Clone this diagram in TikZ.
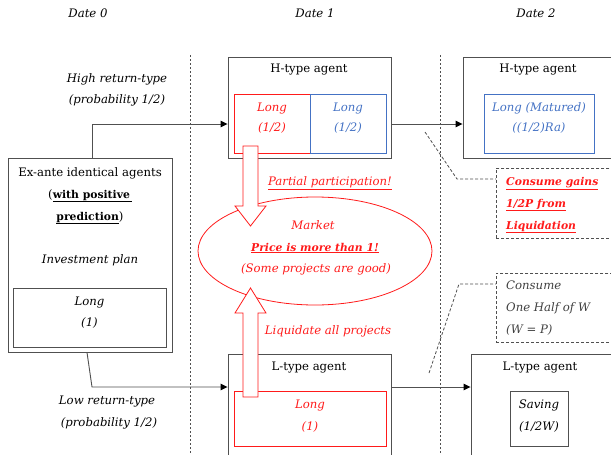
\documentclass[tikz,border=0pt]{standalone}
\usepackage{fontspec}
\setmainfont{DejaVu Serif}
\usetikzlibrary{arrows.meta,shapes.geometric,calc}
\definecolor{boxgray}{HTML}{505050}
\definecolor{txtgray}{HTML}{404040}
\definecolor{myred}{HTML}{FF1A1A}
\definecolor{myblue}{HTML}{4472C4}
\begin{document}
\begin{tikzpicture}[x=1pt,y=-1pt,
  every node/.style={font=\fontsize{11.7}{13}\selectfont, inner sep=0pt, text height=8.5pt, text depth=2.5pt},
  box/.style={draw=boxgray, line width=0.9pt, rectangle},
  redbox/.style={draw=myred, line width=0.8pt, rectangle},
  bluebox/.style={draw=myblue, line width=0.8pt, rectangle},
  dashbox/.style={draw=boxgray, line width=0.8pt, dash pattern=on 3pt off 2pt, rectangle},
  lbl/.style={font=\fontsize{11.7}{13}\selectfont\itshape},
  redlbl/.style={font=\fontsize{11.7}{13}\selectfont\itshape, text=myred},
  bluelbl/.style={font=\fontsize{11.7}{13}\selectfont\itshape, text=myblue},
  graylbl/.style={font=\fontsize{11.7}{13}\selectfont\itshape, text=txtgray},
  boldred/.style={font=\fontsize{10.8}{13}\selectfont\bfseries\itshape, text=myred},
  vline/.style={draw=boxgray, line width=0.8pt, dash pattern=on 2.2pt off 1.8pt},
  conn/.style={draw=boxgray, line width=0.9pt, -{Triangle[length=7pt,width=6.5pt,color=black]}},
  callout/.style={draw=boxgray, line width=0.8pt, dash pattern=on 3pt off 2pt},
  blockarrow/.style={draw=myred, line width=0.8pt, fill=white}
]
\useasboundingbox (0,0) rectangle (611,455);

% date labels
\node[lbl] (d0) at (88,14) {Date 0};
\node[lbl] (d1) at (315,14) {Date 1};
\node[lbl] (d2) at (536,14) {Date 2};

% vertical separators
\coordinate (v1t) at (190,55); \coordinate (v1b) at (190,455);
\coordinate (v2t) at (440,55); \coordinate (v2b) at (440,455);
\draw[vline] (v1t) -- (v1b);
\draw[vline] (v2t) -- (v2b);

% ex-ante box
\node[box, minimum width=164pt, minimum height=194pt] (exante) at (90,255) {};
\node (ex1) at (90,173) {Ex-ante identical agents};
\node (ex2) at (90,195) {(\textbf{\fontsize{10.8}{13}\selectfont\underline{with positive\,}}};
\node (ex3) at (90,217) {\textbf{\fontsize{10.8}{13}\selectfont\underline{prediction}})};
\node[lbl] (ex4) at (90,260) {Investment plan};
\node[box, minimum width=153pt, minimum height=59pt] (plan) at (89.5,317.5) {};
\node[lbl] (plan1) at (89.5,302) {Long};
\node[lbl] (plan2) at (89.5,323) {(1)};

% H-type agent, date 1
\node[box, minimum width=163pt, minimum height=101pt] (H1) at (309.5,107.5) {};
\node (H1t) at (309,69) {H-type agent};
\node[redbox, minimum width=76pt, minimum height=59pt] (H1r) at (272,123.5) {};
\node[bluebox, minimum width=76pt, minimum height=59pt] (H1b) at (348,123.5) {};
\node[redlbl] (H1r1) at (272,108) {Long};
\node[redlbl] (H1r2) at (272,128) {(1/2)};
\node[bluelbl] (H1b1) at (348,108) {Long};
\node[bluelbl] (H1b2) at (348,128) {(1/2)};

% H-type agent, date 2
\node[box, minimum width=160pt, minimum height=101pt] (H2) at (543,107.5) {};
\node (H2t) at (538,69) {H-type agent};
\node[bluebox, minimum width=110pt, minimum height=59pt] (H2b) at (539,123.5) {};
\node[bluelbl] (H2b1) at (539,108) {Long (Matured)};
\node[bluelbl] (H2b2) at (539,128) {((1/2)Ra)};

% L-type agent, date 1
\node[box, minimum width=163pt, minimum height=110pt] (L1) at (309.5,409) {};
\node (L1t) at (309,367) {L-type agent};
\node[redbox, minimum width=152pt, minimum height=55pt] (L1r) at (310,418.5) {};
\node[redlbl] (L1r1) at (310,405) {Long};
\node[redlbl] (L1r2) at (310,427) {(1)};

% L-type agent, date 2
\node[box, minimum width=160pt, minimum height=110pt] (L2) at (551,409) {};
\node (L2t) at (540,367) {L-type agent};
\node[box, minimum width=58pt, minimum height=55pt] (sav) at (539,418.5) {};
\node[lbl] (sav1) at (539,405) {Saving};
\node[lbl] (sav2) at (539,427) {(1/2W)};

% branch labels
\node[lbl] (hi1) at (117,79) {High return-type};
\node[lbl] (hi2) at (117,100) {(probability 1/2)};
\node[lbl] (lo1) at (107,401) {Low return-type};
\node[lbl] (lo2) at (109,423) {(probability 1/2)};

% connectors
\coordinate (hbend) at (92,124);
\draw[conn] (hbend |- exante.north) -- (hbend) -- (hbend -| H1.west);
\draw[conn] (H1.east |- hbend) -- (H2.west |- hbend);
\coordinate (lbend) at (92,387);
\draw[conn] ([xshift=-3pt]exante.south) -- (lbend) -- (lbend -| L1.west);
\draw[conn] (L1.east |- lbend) -- (L2.west |- lbend);

% market ellipse
\node[ellipse, draw=myred, line width=0.8pt, minimum width=234pt, minimum height=108pt] (mkt) at (315,251) {};
\node[redlbl] (mkt1) at (313,226) {Market};
\node[boldred] (mkt2) at (315,248) {\underline{Price is more than 1!}};
\node[redlbl] (mkt3) at (316,269) {(Some projects are good)};

% block arrows
\draw[blockarrow] (243,146) -- (258,146) -- (258,206) -- (266,206) -- (250.5,226) -- (235,206) -- (243,206) -- cycle;
\draw[blockarrow] (243,397) -- (258,397) -- (258,313) -- (266,313) -- (250.5,288) -- (235,313) -- (243,313) -- cycle;

\node[redlbl] (pp) at (330,182) {\underline{Partial participation!}};
\node[redlbl] (liq) at (328,331) {Liquidate all projects};

% consume gains box
\node[dashbox, minimum width=124pt, minimum height=70pt, anchor=north west] (cg) at (496,168) {};
\node[boldred, anchor=west] (cg1) at (506,182) {\underline{Consume gains}};
\node[boldred, anchor=west] (cg2) at (506,204) {\underline{1/2P from}};
\node[boldred, anchor=west] (cg3) at (506,226) {\underline{Liquidation}};
\coordinate (c1s) at (425,132);
\coordinate (c1k) at (457,179);
\draw[callout] (c1s) -- (c1k) -- (c1k -| cg.west);

% consume half box
\node[dashbox, minimum width=124pt, minimum height=69pt, anchor=north west] (ch) at (496,273) {};
\node[graylbl, anchor=west] (ch1) at (506,286) {Consume};
\node[graylbl, anchor=west] (ch2) at (506,308) {One Half of W};
\node[graylbl, anchor=west] (ch3) at (506,330) {(W = P)};
\coordinate (c2s) at (429,373);
\coordinate (c2k) at (459,284);
\draw[callout] (c2s) -- (c2k) -- (c2k -| ch.west);
\end{tikzpicture}
\end{document}
